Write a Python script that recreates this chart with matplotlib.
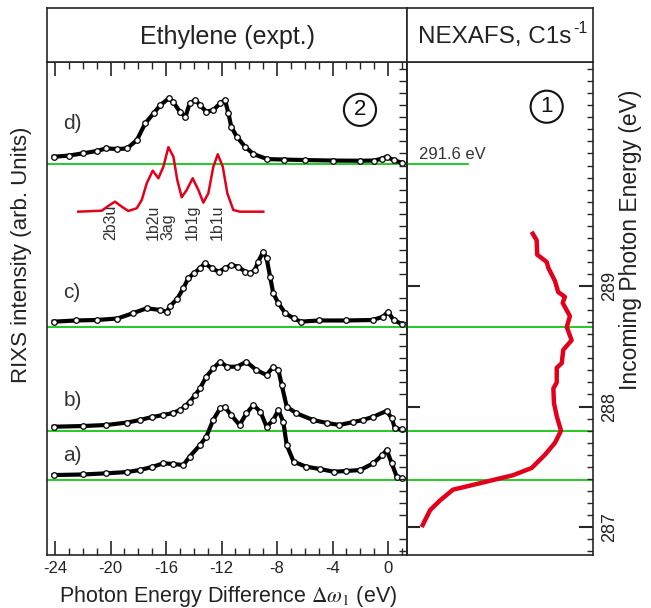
import matplotlib
matplotlib.use("Agg")
import matplotlib.pyplot as plt
from matplotlib.ticker import MultipleLocator, FixedLocator

plt.rcParams['font.family'] = ['Liberation Sans', 'DejaVu Sans']
plt.rcParams['mathtext.fontset'] = 'stix'

# ---------------- data ----------------
# RIXS spectra: photon energy difference (eV) and intensity above own baseline (arb.)
x_d = [-24.1, -23.0, -22.0, -21.0, -20.3, -19.5, -18.8, -18.1, -17.5, -16.9, -16.4, -15.8, -15.5,
       -15.0, -14.6, -14.3, -13.9, -13.55, -13.1, -12.6, -12.1, -11.75, -11.5, -11.3, -10.9, -10.3,
       -9.7, -8.7, -7.5, -6.0, -4.0, -2.0, -1.0, -0.4, -0.1, 0.4, 1.0]
i_d = [1.48, 1.72, 2.17, 2.64, 3.18, 3.04, 3.18, 4.87, 8.26, 10.28, 11.97, 13.33, 12.64,
       10.61, 9.59, 12.31, 12.98, 11.97, 10.61, 10.95, 12.31, 12.98, 10.28, 7.57, 5.54, 3.51,
       2.03, 1.01, 0.91, 0.81, 0.71, 0.67, 0.71, 1.12, 1.48, 0.81, 0.26]

x_c = [-24.1, -22.5, -21.0, -19.5, -18.4, -17.4, -16.4, -15.95, -15.7, -15.2, -14.75, -14.4, -14.0,
       -13.55, -13.2, -12.7, -12.2, -11.75, -11.3, -10.8, -10.3, -9.95, -9.6, -9.35, -9.0, -8.75,
       -8.5, -8.27, -7.9, -7.4, -6.8, -6.3, -5.0, -3.0, -1.1, -0.35, 0.0, 0.4, 1.0]
i_c = [1.08, 1.32, 1.42, 1.72, 2.78, 3.79, 3.45, 3.10, 4.26, 5.68, 7.85, 9.88, 10.89,
       11.91, 12.92, 11.91, 11.22, 11.91, 12.58, 12.23, 11.22, 10.89, 11.56, 13.25, 15.27, 13.94,
       10.20, 6.84, 4.81, 2.78, 1.76, 1.08, 1.32, 1.32, 1.42, 2.09, 3.10, 1.42, 0.61]

x_b = [-24.1, -22.0, -20.3, -18.8, -17.9, -17.0, -16.2, -15.5, -15.0, -14.6, -14.3, -13.9, -13.55,
       -13.1, -12.6, -12.1, -11.6, -10.9, -10.2, -9.5, -8.75, -8.27, -7.9, -7.66, -7.3, -6.6,
       -5.4, -4.4, -3.5, -2.5, -1.8, -1.06, -0.1, 0.27, 0.5, 1.0]
i_b = [0.87, 1.01, 1.22, 1.72, 2.23, 2.84, 3.25, 3.65, 4.26, 5.07, 5.94, 7.30, 8.66,
       11.01, 12.72, 14.06, 13.04, 13.04, 14.06, 12.37, 11.36, 13.04, 12.37, 9.33, 4.93, 3.59,
       2.23, 1.62, 1.22, 1.83, 2.23, 2.90, 4.06, 2.58, 0.55, 0.34]

x_a = [-24.1, -22.0, -20.3, -18.8, -17.9, -17.0, -16.2, -15.5, -14.75, -14.3, -13.55, -13.1, -12.6,
       -12.1, -11.75, -11.3, -10.7, -10.2, -9.7, -9.2, -8.75, -8.27, -7.9, -7.55, -7.3, -6.8,
       -5.9, -4.9, -3.9, -3.0, -2.0, -1.06, -0.4, -0.1, 0.27, 0.63, 1.0]
i_a = [1.01, 1.12, 1.36, 1.62, 2.03, 2.64, 3.39, 3.25, 3.04, 4.73, 7.10, 8.78, 12.17,
       14.54, 14.75, 13.18, 11.16, 13.53, 15.21, 13.85, 10.81, 12.17, 14.20, 11.83, 7.10, 3.71,
       2.70, 2.23, 1.68, 1.83, 2.03, 3.39, 5.07, 6.09, 3.39, 0.67, 0.34]

spectra_x = [x_a, x_b, x_c, x_d]
spectra_i = [i_a, i_b, i_c, i_d]
spectra_labels = ['a)', 'b)', 'c)', 'd)']
spectra_offsets = [15.21, 25.15, 46.25, 79.3]
label_y = [20.1, 31.4, 53.3, 87.6]

# calculated spectrum (red) in left panel
x_th = [-22.32, -20.63, -20.16, -19.68, -19.19, -18.72, -18.11, -17.75, -17.39, -16.96, -16.55,
        -16.19, -15.83, -15.47, -15.19, -14.87, -14.51, -14.08, -13.67, -13.31, -12.95, -12.59,
        -12.27, -11.91, -11.58, -11.15, -10.67, -8.99]
i_th = [0.0, 0.2, 1.16, 2.03, 1.01, 0.14, 0.69, 2.37, 5.76, 8.32, 6.78,
        9.13, 13.08, 11.16, 6.43, 2.92, 4.40, 6.78, 4.40, 1.83, 3.73, 9.13,
        11.64, 9.13, 3.73, 0.34, 0.0, 0.0]
th_offset = 69.64
peak_names = ['2b3u', '1b2u', '3ag', '1b1g', '1b1u']
peak_pos = [-20.0, -16.95, -15.85, -14.09, -12.29]

# NEXAFS (right panel): intensity (normalised) vs incoming photon energy (eV)
nex_i = [0.670, 0.697, 0.700, 0.751, 0.760, 0.796, 0.813, 0.849, 0.837, 0.876, 0.859, 0.885,
         0.840, 0.832, 0.805, 0.805, 0.787, 0.790, 0.805, 0.828, 0.796, 0.742, 0.670, 0.570,
         0.409, 0.247, 0.177, 0.124, 0.079]
nex_e = [289.45, 289.38, 289.26, 289.20, 289.15, 289.04, 288.95, 288.91, 288.86, 288.75, 288.66,
         288.55, 288.47, 288.36, 288.32, 288.20, 288.15, 288.03, 287.92, 287.80, 287.70, 287.60,
         287.49, 287.43, 287.37, 287.31, 287.22, 287.14, 287.00]
excit_e = [287.39, 287.797, 288.66, 290.012]   # a, b, c, d (d drawn at broken-axis position)

# ---------------- figure ----------------
W, H = 651, 608
fig = plt.figure(figsize=(W / 100, H / 100), dpi=100)

def fx(px):
    return px / W

def fy(py):
    return 1 - py / H

spine_c = '#262626'
green = '#00c000'
red = '#e3001b'

L, M, R = 47, 407, 593
T, HB, B = 8, 62, 555

ax = fig.add_axes([fx(L), fy(B), fx(M) - fx(L), fy(HB) - fy(B)])
ax2 = fig.add_axes([fx(M), fy(B), fx(R) - fx(M), fy(HB) - fy(B)])
hl = fig.add_axes([fx(L), fy(HB), fx(M) - fx(L), fy(T) - fy(HB)])
hr = fig.add_axes([fx(M), fy(HB), fx(R) - fx(M), fy(T) - fy(HB)])

for a in (ax, ax2, hl, hr):
    for s in a.spines.values():
        s.set_color(spine_c)
        s.set_linewidth(1.2)

for h in (hl, hr):
    h.set_xticks([])
    h.set_yticks([])
hl.text(0.5, 0.47, 'Ethylene (expt.)', ha='center', va='center', fontsize=18,
        color='#222222', transform=hl.transAxes)
hr.text(0.47, 0.47, 'NEXAFS, C1s', ha='center', va='center', fontsize=17.5,
        color='#222222', transform=hr.transAxes)
hr.text(0.895, 0.62, '-1', ha='left', va='center', fontsize=11.5,
        color='#222222', transform=hr.transAxes)

# ---- left panel ----
ax.set_xlim(-24.58, 1.37)
ax.set_ylim(0, 100)
ax.xaxis.set_major_locator(MultipleLocator(4))
ax.xaxis.set_minor_locator(MultipleLocator(1))
ax.tick_params(axis='x', which='both', direction='in', top=True, bottom=True,
               color=spine_c, labelsize=12, pad=4, labelcolor='#222222')
ax.tick_params(axis='x', which='major', length=10, width=1.2)
ax.tick_params(axis='x', which='minor', length=5, width=1.0)
ax.set_xticks([-24, -20, -16, -12, -8, -4, 0])
ax.set_xticklabels(['-24', '-20', '-16', '-12', '-8', '-4', '0'])
ax.set_yticks([])

for off in spectra_offsets:
    ax.axhline(off, color=green, lw=1.2, zorder=1)

for xs, ys, off, lab, ly in zip(spectra_x, spectra_i, spectra_offsets, spectra_labels, label_y):
    yy = [off + v for v in ys]
    ax.plot(xs, yy, color='black', lw=3.0, zorder=3, solid_joinstyle='round')
    ax.plot(xs, yy, linestyle='none', marker='o', ms=4, mfc='white', mec='black', mew=0.9, zorder=4)
    ax.text(-23.4, ly, lab, ha='left', va='center', fontsize=15, color='#333333')

ax.plot(x_th, [th_offset + v for v in i_th], color=red, lw=1.8, zorder=2, solid_joinstyle='round')
for name, p in zip(peak_names, peak_pos):
    ax.text(p, 63.9, name, rotation=90, ha='center', va='bottom', fontsize=11.5, color='#333333')

ax.text(-2.02, 90.3, '2', ha='center', va='center', fontsize=16, color='#111111',
        bbox=dict(boxstyle='circle,pad=0.25', fc='none', ec='#111111', lw=1.5))

fig.text(fx(228), fy(602), r'Photon Energy Difference $\Delta\omega_1$ (eV)', ha='center',
         va='baseline', fontsize=15.5, color='#222222')

# ---- right panel ----
ax2.set_xlim(0, 1)
ax2.set_ylim(286.768, 290.859)
ax2.set_xticks([])
ax2.yaxis.set_major_locator(FixedLocator([287, 288, 289]))
ax2.yaxis.set_minor_locator(MultipleLocator(0.1))
ax2.yaxis.tick_right()
ax2.tick_params(axis='y', which='both', direction='in', right=True, left=False,
                color=spine_c, labelsize=13, pad=6, labelcolor='#222222')
ax2.tick_params(axis='y', which='major', length=10, width=1.5)
ax2.tick_params(axis='y', which='minor', length=4, width=1.0)
for t in ax2.get_yticklabels():
    t.set_rotation(90)
    t.set_va('center')

fig.text(fx(630), fy(240), 'Incoming Photon Energy (eV)', rotation=90, ha='center', va='center',
         fontsize=16.5, color='#222222')

sec = ax2.secondary_yaxis('left')
sec.yaxis.set_major_locator(FixedLocator([287, 288, 289]))
sec.yaxis.set_minor_locator(MultipleLocator(0.1))
sec.tick_params(axis='y', which='major', direction='in', length=9, width=1.5, color=spine_c)
sec.tick_params(axis='y', which='minor', direction='out', length=6, width=1.0, color=spine_c)
sec.set_yticklabels([])
sec.spines['left'].set_color(spine_c)
sec.spines['left'].set_linewidth(1.2)

for e in excit_e[:3]:
    ax2.axhline(e, color=green, lw=1.2, zorder=1)
ax2.plot([0, 0.328], [excit_e[3], excit_e[3]], color=green, lw=1.2, zorder=1)
ax2.text(0.065, 290.03, '291.6 eV', ha='left', va='bottom', fontsize=12, color='#333333')

ax2.plot(nex_i, nex_e, color=red, lw=3.2, solid_joinstyle='round', solid_capstyle='butt', zorder=3)

ax2.text(0.751, 290.488, '1', ha='center', va='center', fontsize=16, color='#111111',
         bbox=dict(boxstyle='circle,pad=0.25', fc='none', ec='#111111', lw=1.5))

fig.text(fx(22), fy(255), 'RIXS intensity (arb. Units)', rotation=90, ha='center', va='center',
         fontsize=16, color='#222222')

fig.savefig('out.png', dpi=100)
